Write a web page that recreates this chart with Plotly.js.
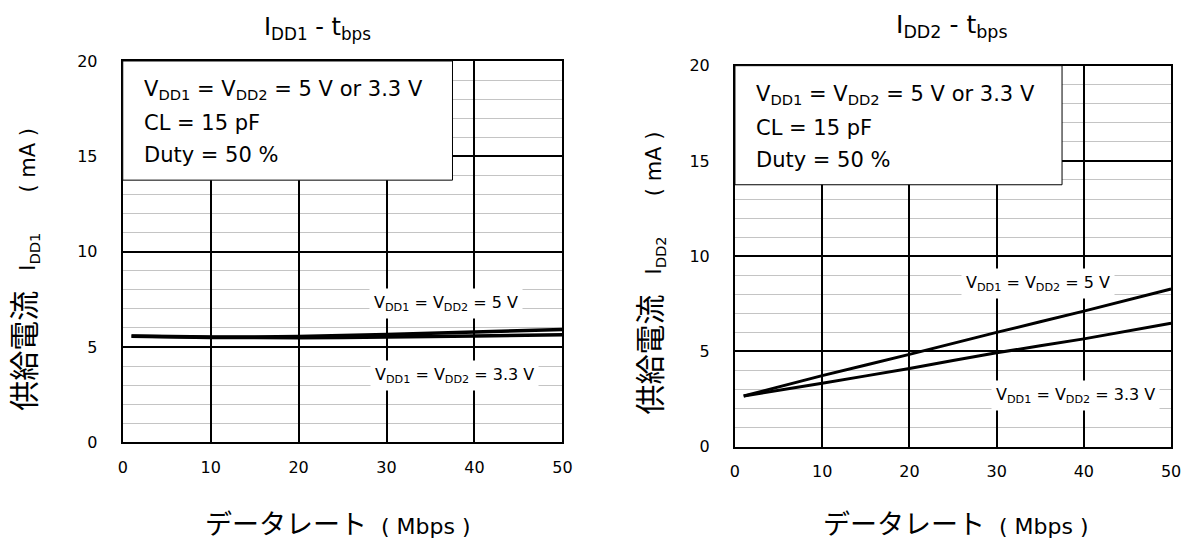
<!DOCTYPE html>
<html>
<head>
<meta charset="utf-8">
<script src="https://cdn.plot.ly/plotly-3.0.1.min.js"></script>
<style>html,body{margin:0;padding:0;background:#fff;}#chart{width:1186px;height:545px;}</style>
</head>
<body>
<div id="chart"></div>
<script>
// ---- data ----
const rate = [1, 10, 20, 30, 40, 50];                 // data rate (Mbps)
const idd1_5v  = [5.58, 5.52, 5.55, 5.66, 5.78, 5.92]; // IDD1 @ VDD=5V (mA)
const idd1_33v = [5.56, 5.50, 5.49, 5.52, 5.58, 5.64]; // IDD1 @ VDD=3.3V (mA)
const idd2_5v  = [2.66, 3.73, 4.85, 6.00, 7.12, 8.28]; // IDD2 @ VDD=5V (mA)
const idd2_33v = [2.66, 3.33, 4.11, 4.93, 5.66, 6.48]; // IDD2 @ VDD=3.3V (mA)
const xTicks = [0, 10, 20, 30, 40, 50];
const yTicks = [0, 5, 10, 15, 20];
const label5v  = 'V<sub>DD1</sub> = V<sub>DD2</sub> = 5 V';
const label33v = 'V<sub>DD1</sub> = V<sub>DD2</sub> = 3.3 V';
const boxLines = ['V<sub>DD1</sub> = V<sub>DD2</sub> = 5 V or 3.3 V', 'CL = 15 pF', 'Duty = 50 %'];

const FONT = 'DejaVu Sans, Noto Sans CJK JP, sans-serif';
const NB = '\u00A0';
const CJK = (t, s) => '<span style="font-size:' + s + 'px">' + t + '</span>';

function line(x, y, xa, ya, w) {
  return {x: x, y: y, xaxis: xa, yaxis: ya, type: 'scatter', mode: 'lines',
          line: {color: '#000', width: w, shape: 'spline', smoothing: 0.6},
          hoverinfo: 'skip', showlegend: false};
}
const data = [
  line(rate, idd1_5v, 'x', 'y', 3.5),
  line(rate, idd1_33v, 'x', 'y', 3.5),
  line(rate, idd2_5v, 'x2', 'y2', 3),
  line(rate, idd2_33v, 'x2', 'y2', 3)
];

function xax(domain, anchor) {
  return {domain: domain, anchor: anchor, range: [0, 50], tickvals: xTicks,
          showgrid: true, gridcolor: '#000', gridwidth: 2, zeroline: false,
          showline: true, mirror: true, linecolor: '#000', linewidth: 2,
          ticks: '', ticklabelstandoff: 9,
          tickfont: {family: FONT, size: 16, color: '#000'}, fixedrange: true};
}
function yax(domain, anchor) {
  return {domain: domain, anchor: anchor, range: [0, 20], tickvals: yTicks,
          showgrid: true, gridcolor: '#000', gridwidth: 2, zeroline: false,
          showline: true, mirror: true, linecolor: '#000', linewidth: 2,
          minor: {dtick: 1, showgrid: true, gridcolor: '#c4c4c4', gridwidth: 1, ticks: ''},
          ticks: '', ticklabelstandoff: 20,
          tickfont: {family: FONT, size: 16, color: '#000'}, fixedrange: true};
}

const annotations = [];
const shapes = [];
function addPanel(xr, yr, titleTxt, tx, ty, tsize, ytTxt, ytx, yty, xtx, xty, l5, l33) {
  annotations.push({xref: 'paper', yref: 'paper', x: tx, y: ty, text: titleTxt, showarrow: false,
    xanchor: 'center', yanchor: 'middle', font: {family: FONT, size: tsize, color: '#000'}});
  annotations.push({xref: 'paper', yref: 'paper', x: ytx, y: yty, text: ytTxt, showarrow: false,
    textangle: -90, xanchor: 'center', yanchor: 'middle', font: {family: FONT, size: 21, color: '#000'}});
  annotations.push({xref: 'paper', yref: 'paper', x: xtx, y: xty,
    text: CJK('データレート', 27) + NB + NB + '( Mbps )', showarrow: false,
    xanchor: 'center', yanchor: 'middle', font: {family: FONT, size: 22, color: '#000'}});
  shapes.push({type: 'rect', xref: xr, yref: yr, x0: 0, x1: 37.5, y0: 13.75, y1: 20,
    fillcolor: '#fff', line: {color: '#000', width: 1}, layer: 'above'});
  const ys = [18.47, 16.73, 15.06];
  boxLines.forEach((t, i) => annotations.push({xref: xr, yref: yr, x: 2.2, y: ys[i], text: t,
    showarrow: false, xanchor: 'left', yanchor: 'middle', font: {family: FONT, size: 21, color: '#000'}}));
  annotations.push({xref: xr, yref: yr, x: l5[0], y: l5[1], text: label5v, showarrow: false,
    xanchor: 'center', yanchor: 'middle', bgcolor: '#fff', borderpad: 4,
    font: {family: FONT, size: 16, color: '#000'}});
  annotations.push({xref: xr, yref: yr, x: l33[0], y: l33[1], text: label33v, showarrow: false,
    xanchor: 'center', yanchor: 'middle', bgcolor: '#fff', borderpad: 4,
    font: {family: FONT, size: 16, color: '#000'}});
}

const yTitle = sub => CJK('供給電流', 30) + NB + NB + NB + 'I<sub>' + sub + '</sub>' +
  NB + NB + NB + NB + NB + NB + '( mA )';

addPanel('x', 'y', 'I<sub>DD1</sub> - t<sub>bps</sub>', 0.2673, 0.948, 24,
  yTitle('DD1'), 0.0211, 0.505, 0.285, 0.037, [36.8, 7.3], [37.7, 3.52]);
addPanel('x2', 'y2', 'I<sub>DD2</sub> - t<sub>bps</sub>', 0.8031, 0.952, 25,
  yTitle('DD2'), 0.5489, 0.50, 0.806, 0.037, [34.8, 8.59], [39.0, 2.71]);

const layout = {
  width: 1186, height: 545,
  margin: {l: 0, r: 0, t: 0, b: 0},
  paper_bgcolor: '#fff', plot_bgcolor: '#fff',
  showlegend: false,
  xaxis: xax([0.1035, 0.4742], 'y'),
  yaxis: yax([0.1884, 0.8881], 'x'),
  xaxis2: xax([0.6197, 0.9874], 'y2'),
  yaxis2: yax([0.1803, 0.8795], 'x2'),
  annotations: annotations,
  shapes: shapes,
  font: {family: FONT, color: '#000'}
};

Plotly.newPlot('chart', data, layout, {displayModeBar: false, staticPlot: true});
</script>
</body>
</html>
